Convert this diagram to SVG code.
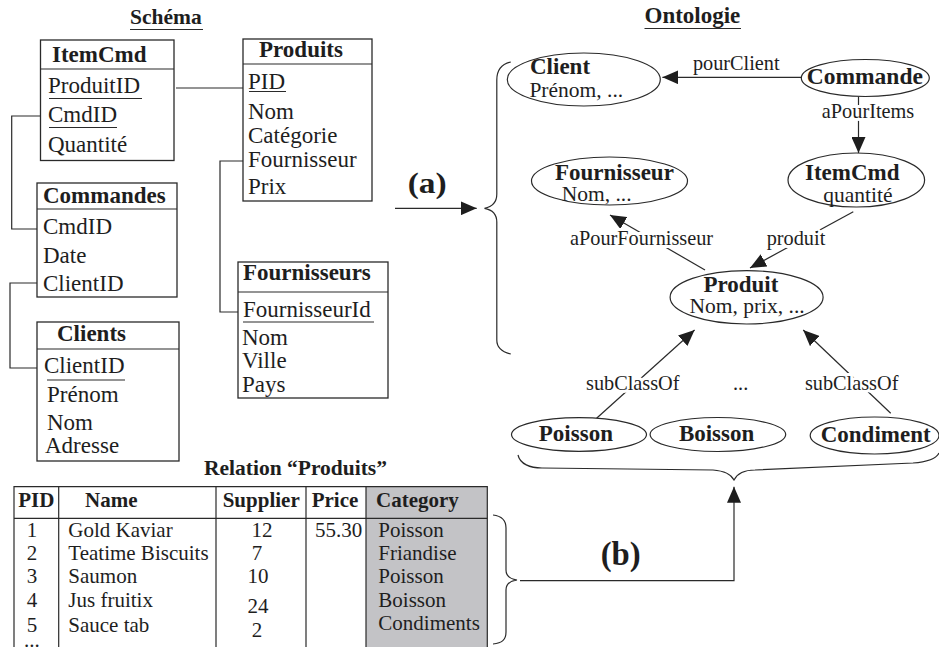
<svg xmlns="http://www.w3.org/2000/svg" width="939" height="647" viewBox="0 0 939 647">
<style>
text { font-family: "Liberation Serif", "Times New Roman", serif; fill: #1e1e1e; }
.b { font-weight: bold; }
.f23 { font-size: 23px; }
.f21 { font-size: 21px; }
.sub { font-size: 21.5px; }
.lab { font-size: 20.3px; }
.big { font-weight: bold; }
.box { fill: #fff; stroke: #2a2a2a; stroke-width: 1.3; }
.ln { fill: none; stroke: #2a2a2a; stroke-width: 1.2; }
.ell { fill: #fff; stroke: #2a2a2a; stroke-width: 1.2; }
.lbl { paint-order: stroke; stroke: #fff; stroke-width: 6px; stroke-linejoin: round; }
</style>
<defs>
<marker id="ah" viewBox="0 0 16 14" refX="16" refY="7" markerWidth="16" markerHeight="14" orient="auto" markerUnits="userSpaceOnUse">
<path d="M0,0 L16,7 L0,14 z" fill="#1e1e1e"/>
</marker>
</defs>
<rect width="939" height="647" fill="#fff"/>

<g id="titles">
<text x="130" y="24" class="b" font-size="21.5">Schéma</text>
<line x1="130" y1="29.5" x2="203" y2="29.5" stroke="#2a2a2a" stroke-width="1.2"/>
<text x="644.5" y="23" class="b" font-size="23">Ontologie</text>
<line x1="644.5" y1="28.5" x2="741" y2="28.5" stroke="#2a2a2a" stroke-width="1.2"/>
</g>

<g id="schema-connectors">
<path class="ln" d="M176,88 H243"/>
<path class="ln" d="M40.7,116 H11.7 V229 H37"/>
<path class="ln" d="M37,283 H10 V368 H37"/>
<path class="ln" d="M243,161 H220 V312 H238"/>
</g>

<g id="itemcmd-table">
<rect class="box" x="40.5" y="40" width="133.5" height="120.5"/>
<line class="ln" x1="40.5" y1="69" x2="174" y2="69"/>
<text x="52" y="62" class="b f23">ItemCmd</text>
<text x="48" y="93" class="f23">ProduitID</text>
<line class="ln" x1="49" y1="98.5" x2="142" y2="98.5"/>
<text x="48" y="122" class="f23">CmdID</text>
<line class="ln" x1="49" y1="127.5" x2="117" y2="127.5"/>
<text x="48" y="152" class="f23">Quantité</text>
</g>

<g id="produits-table">
<rect class="box" x="243" y="39" width="129" height="162"/>
<line class="ln" x1="243" y1="64" x2="372" y2="64"/>
<text x="259" y="57" class="b f23">Produits</text>
<text x="248" y="89" class="f23">PID</text>
<line class="ln" x1="249" y1="91.5" x2="286" y2="91.5"/>
<text x="248" y="119" class="f23">Nom</text>
<text x="248" y="143" class="f23">Catégorie</text>
<text x="248" y="167" class="f23">Fournisseur</text>
<text x="248" y="194" class="f23">Prix</text>
</g>

<g id="commandes-table">
<rect class="box" x="37" y="183" width="140" height="114"/>
<line class="ln" x1="37" y1="209" x2="177" y2="209"/>
<text x="43" y="203" class="b f23">Commandes</text>
<text x="43" y="234" class="f23">CmdID</text>
<text x="43" y="263" class="f23">Date</text>
<text x="43" y="291" class="f23">ClientID</text>
</g>

<g id="clients-table">
<rect class="box" x="37" y="322" width="142" height="139"/>
<line class="ln" x1="37" y1="349" x2="179" y2="349"/>
<text x="57" y="341" class="b f23">Clients</text>
<text x="44" y="373" class="f23">ClientID</text>
<line class="ln" x1="47" y1="380" x2="125" y2="380"/>
<text x="47" y="402" class="f23">Prénom</text>
<text x="47" y="430" class="f23">Nom</text>
<text x="45" y="453" class="f23">Adresse</text>
</g>

<g id="fournisseurs-table">
<rect class="box" x="238" y="262" width="150" height="136"/>
<line class="ln" x1="238" y1="292" x2="388" y2="292"/>
<text x="243" y="280" class="b f23">Fournisseurs</text>
<text x="243" y="317" class="f23">FournisseurId</text>
<line class="ln" x1="243" y1="322" x2="374" y2="322"/>
<text x="242" y="345" class="f23">Nom</text>
<text x="242" y="368" class="f23">Ville</text>
<text x="242" y="392" class="f23">Pays</text>
</g>

<g id="onto-connectors">
<path class="ln" d="M801.4,77.3 H662.4" marker-end="url(#ah)"/>
<path class="ln" d="M858.5,96.5 V153" marker-end="url(#ah)"/>
<path class="ln" d="M853.3,211.7 L750,268" marker-end="url(#ah)"/>
<path class="ln" d="M705,270 L610,215" marker-end="url(#ah)"/>
<path class="ln" d="M596.6,418.3 L694.6,330" marker-end="url(#ah)"/>
<path class="ln" d="M890.7,413.3 L803.2,330" marker-end="url(#ah)"/>
<text x="692.9" y="70" class="lab">pourClient</text>
<text x="868" y="118" class="lab lbl" text-anchor="middle">aPourItems</text>
<text x="766.7" y="245" class="lab lbl">produit</text>
<text x="570" y="245" class="lab lbl">aPourFournisseur</text>
<text x="586" y="390" class="lab lbl">subClassOf</text>
<text x="804.9" y="390" class="lab lbl">subClassOf</text>
<text x="733" y="390" class="lab">...</text>
</g>

<g id="client-node">
<ellipse class="ell" cx="583.8" cy="79.5" rx="76.5" ry="26.5"/>
<text x="530" y="74" class="b f23">Client</text>
<text x="529.4" y="97" class="sub">Prénom, ...</text>
</g>
<g id="commande-node">
<ellipse class="ell" cx="865.3" cy="78" rx="64" ry="18.5"/>
<text x="806.7" y="84" class="b" font-size="23.5">Commande</text>
</g>
<g id="itemcmd-node">
<ellipse class="ell" cx="856.3" cy="180" rx="68.3" ry="27"/>
<text x="805" y="180" class="b f23">ItemCmd</text>
<text x="823.3" y="202" class="sub">quantité</text>
</g>
<g id="fournisseur-node">
<ellipse class="ell" cx="609.5" cy="181" rx="78" ry="24"/>
<text x="555" y="180" class="b f23">Fournisseur</text>
<text x="561.7" y="201" class="sub">Nom, ...</text>
</g>
<g id="produit-node">
<ellipse class="ell" cx="746.6" cy="297.3" rx="76.5" ry="26.7"/>
<text x="703.4" y="292" class="b f23">Produit</text>
<text x="689.4" y="313" class="sub">Nom, prix, ...</text>
</g>
<g id="poisson-node">
<ellipse class="ell" cx="579" cy="434.5" rx="67.5" ry="16.8"/>
<text x="538.8" y="441" class="b f23">Poisson</text>
</g>
<g id="boisson-node">
<ellipse class="ell" cx="717.9" cy="434.5" rx="67.8" ry="17"/>
<text x="678.9" y="441" class="b f23">Boisson</text>
</g>
<g id="condiment-node">
<ellipse class="ell" cx="874.6" cy="435.5" rx="64.4" ry="18.5"/>
<text x="820.7" y="442" class="b f23">Condiment</text>
</g>

<g id="mapping">
<path class="ln" d="M510.8,62 C502,64 496.8,70 496.8,80 L496.8,194 C496.8,203 491,207 484.5,208.3 C491,209.5 496.8,213 496.8,222 L496.8,340 C496.8,348 502,352 510.8,354"/>
<path class="ln" d="M395,208.3 H476.7" marker-end="url(#ah)"/>
<text x="407.7" y="193" class="big" font-size="29" textLength="39" lengthAdjust="spacingAndGlyphs">(a)</text>
<path class="ln" d="M518,455 C520,464 530,468 542,468 L713,470 C725,471 731,474 734,480 C737,474 743,470 755,470 L913,463 C927,462 936,459 939,453"/>
<path class="ln" d="M493,515 C502,516 506,520 506,528 L506,570 C506,576 510,579 517,580 C510,581 506,584 506,590 L506,632 C506,640 502,643 493,644"/>
<path class="ln" d="M520,580.7 H734 V486.7" marker-end="url(#ah)"/>
<text x="600.7" y="565" class="big" font-size="33" textLength="40" lengthAdjust="spacingAndGlyphs">(b)</text>
</g>

<g id="relation-produits">
<text x="204" y="475" class="b" font-size="21.5">Relation “Produits”</text>
<rect x="366" y="486.7" width="121.3" height="161" fill="#c3c3c6"/>
<path class="ln" d="M14,647 V486.7 H487.3 V647"/>
<path class="ln" d="M14,518.3 H487.3"/>
<path class="ln" d="M58.7,486.7 V647 M216,486.7 V647 M306,486.7 V647 M366,486.7 V647"/>
<text x="18.3" y="507" class="b f21">PID</text>
<text x="85" y="507" class="b f21">Name</text>
<text x="222.7" y="507" class="b f21">Supplier</text>
<text x="311.7" y="507" class="b f21">Price</text>
<text x="376" y="507" class="b f21">Category</text>
<text x="26.7" y="537.3" class="f21">1</text>
<text x="26.7" y="560" class="f21">2</text>
<text x="26.7" y="583.3" class="f21">3</text>
<text x="26.7" y="606.7" class="f21">4</text>
<text x="26.7" y="631.7" class="f21">5</text>
<text x="24" y="646.5" class="f21">...</text>
<text x="68.3" y="537.3" class="f21">Gold Kaviar</text>
<text x="68.3" y="560" class="f21">Teatime Biscuits</text>
<text x="68.3" y="583.3" class="f21">Saumon</text>
<text x="68.3" y="606.7" class="f21">Jus fruitix</text>
<text x="68.3" y="631.7" class="f21">Sauce tab</text>
<text x="262" y="537.3" class="f21" text-anchor="middle">12</text>
<text x="257" y="560" class="f21" text-anchor="middle">7</text>
<text x="258" y="583.3" class="f21" text-anchor="middle">10</text>
<text x="258" y="613.3" class="f21" text-anchor="middle">24</text>
<text x="257" y="636.7" class="f21" text-anchor="middle">2</text>
<text x="315" y="537.3" class="f21">55.30</text>
<text x="378.3" y="537.3" class="f21">Poisson</text>
<text x="378.3" y="560" class="f21">Friandise</text>
<text x="378.3" y="583.3" class="f21">Poisson</text>
<text x="378.3" y="606.7" class="f21">Boisson</text>
<text x="378.3" y="630" class="f21">Condiments</text>
</g>
</svg>
